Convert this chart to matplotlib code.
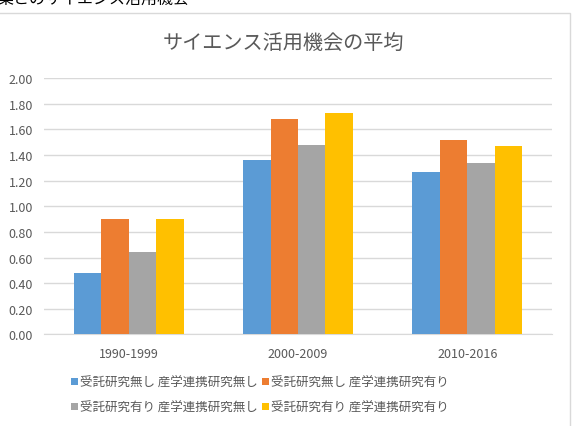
import numpy as np
import matplotlib
matplotlib.use('Agg')
import matplotlib.pyplot as plt
from matplotlib.patches import Rectangle

plt.rcParams['font.family'] = ['Noto Sans CJK JP', 'DejaVu Sans']

# Данные
periods = ['1990-1999', '2000-2009', '2010-2016']
series_names = ['受託研究無し 産学連携研究無し', '受託研究無し 産学連携研究有り',
                '受託研究有り 産学連携研究無し', '受託研究有り 産学連携研究有り']
none_none = [0.48, 1.36, 1.27]
none_yes = [0.90, 1.68, 1.52]
yes_none = [0.64, 1.48, 1.34]
yes_yes = [0.90, 1.73, 1.47]
colors = ['#5B9BD5', '#ED7D31', '#A5A5A5', '#FFC000']

text_color = '#595959'
grid_color = '#D9D9D9'

fig = plt.figure(figsize=(5.73, 4.27), dpi=100)
ax = fig.add_axes([0.0768, 0.2147, 0.8866, 0.5996])

x = np.arange(len(periods))
w = 0.162
bars = []
for i, vals in enumerate([none_none, none_yes, yes_none, yes_yes]):
    b = ax.bar(x + (i - 1.5) * w, vals, w, color=colors[i], label=series_names[i], zorder=3)
    bars.append(b)

# Оси и сетка
ax.set_xlim(-0.5, 2.5)
ax.set_ylim(0, 2.0)
ax.set_yticks(np.arange(0, 2.01, 0.2))
ax.set_yticklabels([f'{v:.2f}' for v in np.arange(0, 2.01, 0.2)])
ax.set_xticks(x)
ax.set_xticklabels(periods)
ax.tick_params(axis='both', length=0, labelsize=9, labelcolor=text_color)
ax.tick_params(axis='y', pad=8)
ax.tick_params(axis='x', pad=9)
ax.grid(axis='y', color=grid_color, linewidth=1, zorder=0)
for side in ['top', 'right', 'left']:
    ax.spines[side].set_visible(False)
ax.spines['bottom'].set_color(grid_color)

# Заголовок
fig.text(0.495, 1 - 43 / 427, 'サイエンス活用機会の平均', ha='center', va='center',
         fontsize=14.5, color=text_color)

# Обрезанный текст сверху
fig.text(-0.004, 1 + 1 / 427, '業とのサイエンス活用機会', ha='left', va='center',
         fontsize=11.5, color='black')

# Рамка диаграммы
fig.add_artist(Rectangle((-0.01, -0.01), 0.01 + 569.5 / 573, 0.01 + 1 - 13.5 / 427,
                         transform=fig.transFigure, fill=False, edgecolor=grid_color, linewidth=1))

# Легенда (порядок по строкам)
order = [0, 2, 1, 3]
leg = fig.legend([bars[i] for i in order], [series_names[i] for i in order],
                 loc='center', bbox_to_anchor=(0.4538, 1 - 396 / 427), ncol=2,
                 frameon=False, fontsize=9, handlelength=0.55, handleheight=0.55,
                 handletextpad=0.2, columnspacing=0.3, labelspacing=0.95,
                 borderpad=0, labelcolor=text_color)

fig.savefig('out.png', dpi=100)
